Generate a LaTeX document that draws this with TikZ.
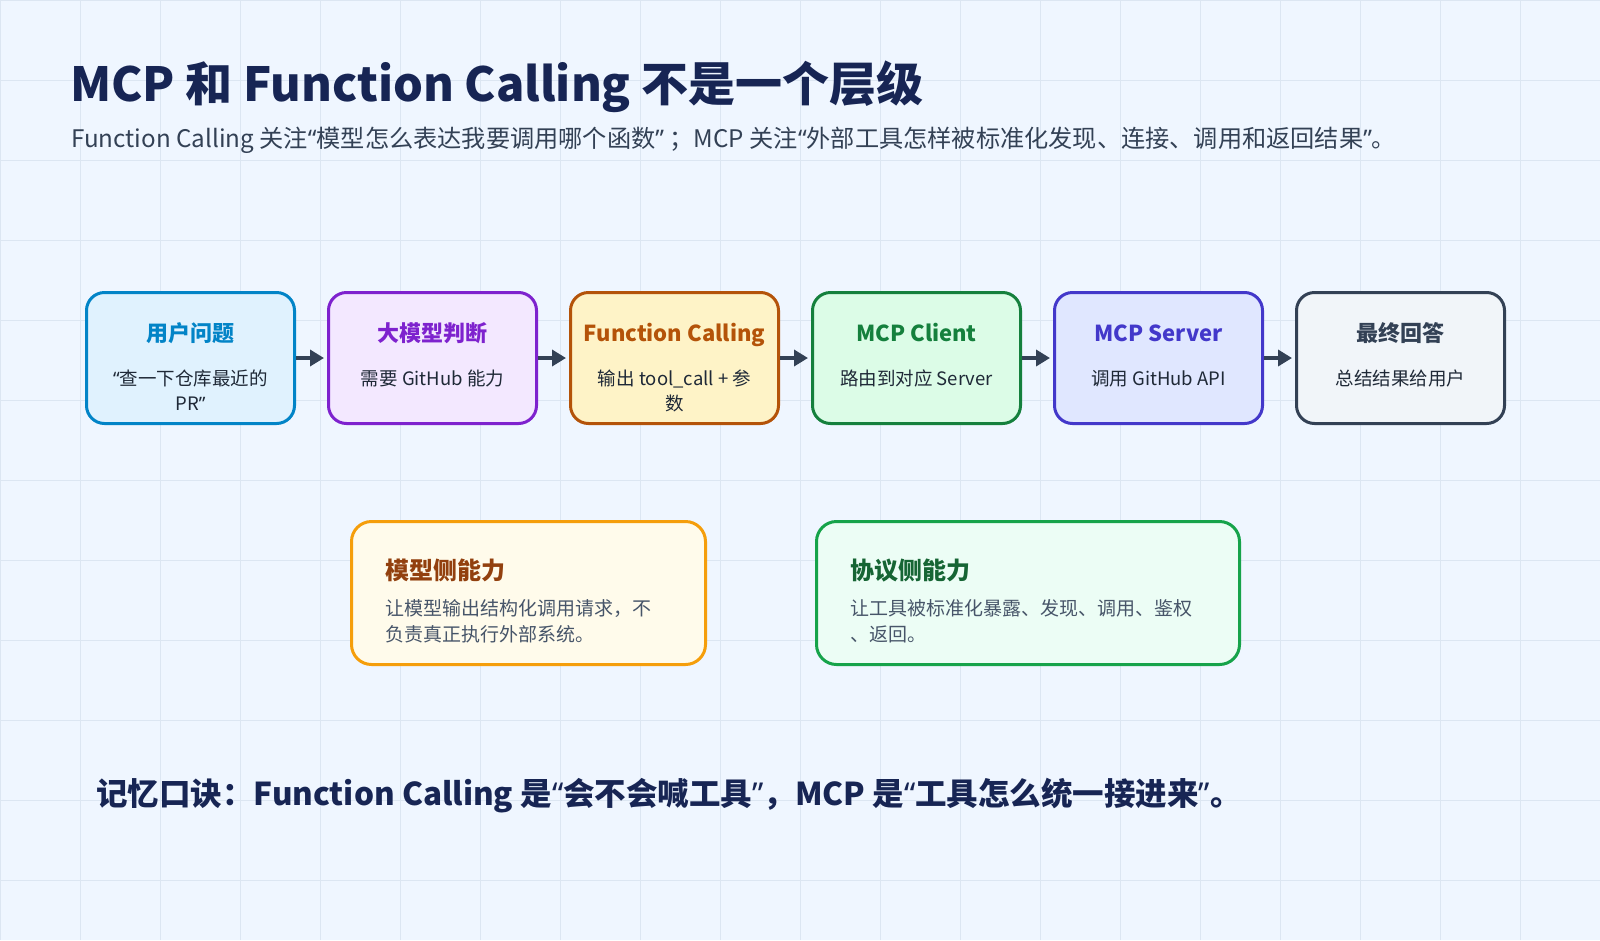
\documentclass[tikz,border=0pt]{standalone}
\usepackage{fontspec}
\setmainfont{Noto Sans CJK SC}
\newfontfamily\qfont{Noto Sans}
\newcommand{\oquote}{{\qfont “}}
\newcommand{\cquote}{{\qfont ”}}
\usetikzlibrary{arrows.meta}
\definecolor{bg}{HTML}{EFF6FF}
\definecolor{gridc}{HTML}{DCE6F2}
\definecolor{navy}{HTML}{172554}
\definecolor{slate}{HTML}{334155}
\definecolor{ink}{HTML}{1F2937}
\definecolor{skyline}{HTML}{0284C7}\definecolor{skyfill}{HTML}{E0F2FE}
\definecolor{purpline}{HTML}{7E22CE}\definecolor{purpfill}{HTML}{F3E8FF}
\definecolor{amberline}{HTML}{B45309}\definecolor{amberfill}{HTML}{FEF3C7}
\definecolor{greenline}{HTML}{15803D}\definecolor{greenfill}{HTML}{DCFCE7}
\definecolor{indline}{HTML}{4338CA}\definecolor{indfill}{HTML}{E0E7FF}
\definecolor{grayfill}{HTML}{F1F5F9}
\definecolor{goldline}{HTML}{F59E0B}\definecolor{goldfill}{HTML}{FFFBEB}\definecolor{goldtext}{HTML}{92400E}
\definecolor{mintline}{HTML}{16A34A}\definecolor{mintfill}{HTML}{ECFDF5}\definecolor{minttext}{HTML}{166534}
\definecolor{notetext}{HTML}{475569}
\begin{document}
\begin{tikzpicture}[x=1pt, y=-1pt,
  stepbox/.style={draw, line width=3pt, rounded corners=18pt, minimum width=208pt, minimum height=131pt},
  notebox/.style={draw, line width=3pt, rounded corners=20pt, minimum height=143pt},
  ttl/.style={anchor=base, inner sep=0pt, font=\fontsize{22}{26}\selectfont\bfseries},
  body/.style={anchor=base, inner sep=0pt, align=center, text=ink, font=\fontsize{18.5}{25}\selectfont},
  ntitle/.style={anchor=base west, inner sep=0pt, font=\fontsize{24}{28}\selectfont\bfseries},
  nbody/.style={anchor=base west, inner sep=0pt, align=left, text=notetext, font=\fontsize{19}{26}\selectfont},
  flow/.style={draw=slate, line width=4pt, -{Triangle[length=14pt,width=16pt]}, shorten >=3pt}]
\useasboundingbox (0,0) rectangle (1600,940);
\fill[bg] (0,0) rectangle (1600,940);
\draw[gridc, line width=1pt, step=80pt] (0,940) grid (1600,0);

\node[anchor=base west, inner sep=0pt, text=navy, font=\fontsize{47}{54}\selectfont\bfseries] (title) at (70,101) {MCP 和 Function Calling 不是一个层级};
\node[anchor=base west, inner sep=0pt, text=slate, font=\fontsize{24.2}{28}\selectfont] (subtitle) at (71,147) {Function Calling 关注\oquote 模型怎么表达我要调用哪个函数\cquote\ ；MCP 关注\oquote 外部工具怎样被标准化发现、连接、调用和返回结果\cquote 。};

% flow boxes
\node[stepbox, draw=skyline, fill=skyfill] (user) at (190.5,358) {};
\node[stepbox, draw=purpline, fill=purpfill] (llm) at (432.5,358) {};
\node[stepbox, draw=amberline, fill=amberfill] (fcall) at (674.5,358) {};
\node[stepbox, draw=greenline, fill=greenfill] (client) at (916.5,358) {};
\node[stepbox, draw=indline, fill=indfill] (server) at (1158.5,358) {};
\node[stepbox, draw=slate, fill=grayfill] (answer) at (1400.5,358) {};

\node[ttl, text=skyline] (userT) at (190.5,341.5) {用户问题};
\node[body] (userB) at (190.5,410.5) {\oquote 查一下仓库最近的\\PR\cquote};
\node[ttl, text=purpline] (llmT) at (432.5,341.5) {大模型判断};
\node[body] (llmB) at (432.5,385.5) {需要 GitHub 能力};
\node[ttl, text=amberline] (fcallT) at (674.5,341.5) {Function Calling};
\node[body] (fcallB) at (674.5,410.5) {输出 tool\_call + 参\\数};
\node[ttl, text=greenline] (clientT) at (916.5,341.5) {MCP Client};
\node[body] (clientB) at (916.5,385.5) {路由到对应 Server};
\node[ttl, text=indline] (serverT) at (1158.5,341.5) {MCP Server};
\node[body] (serverB) at (1158.5,385.5) {调用 GitHub API};
\node[ttl, text=slate] (answerT) at (1400.5,341.5) {最终回答};
\node[body] (answerB) at (1400.5,385.5) {总结结果给用户};

\draw[flow] (user) -- (llm);
\draw[flow] (llm) -- (fcall);
\draw[flow] (fcall) -- (client);
\draw[flow] (client) -- (server);
\draw[flow] (server) -- (answer);

% two sides
\node[notebox, minimum width=354pt, draw=goldline, fill=goldfill] (model) at (528.5,593) {};
\node[ntitle, text=goldtext] (modelT) at (385,579) {模型侧能力};
\node[nbody] (modelB) at (385,641) {让模型输出结构化调用请求，不\\负责真正执行外部系统。};
\node[notebox, minimum width=423pt, draw=mintline, fill=mintfill] (proto) at (1028,593) {};
\node[ntitle, text=minttext] (protoT) at (850,579) {协议侧能力};
\node[nbody] (protoB) at (850,641) {让工具被标准化暴露、发现、调用、鉴权\\、返回。};

\node[anchor=base west, inner sep=0pt, text=navy, font=\fontsize{31.5}{36}\selectfont\bfseries] (motto) at (96,805) {记忆口诀：Function Calling 是\oquote 会不会喊工具\cquote ，MCP 是\oquote 工具怎么统一接进来\cquote 。};
\end{tikzpicture}
\end{document}
